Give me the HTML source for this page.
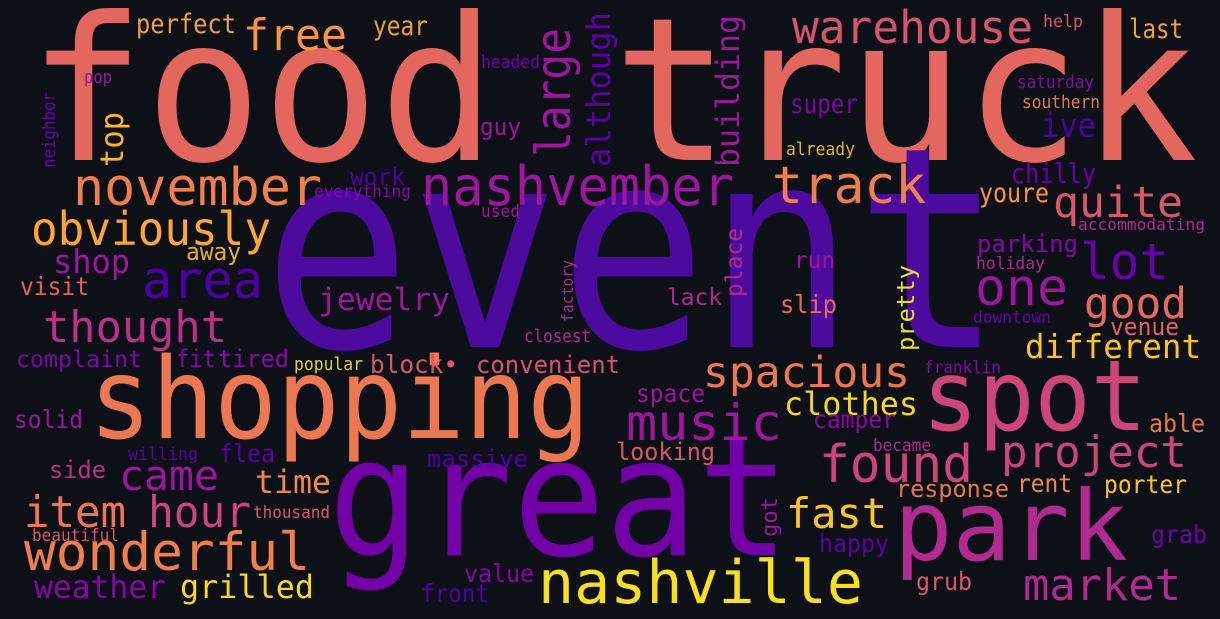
<!DOCTYPE html>
<html><head><meta charset="utf-8"><style>
html,body{margin:0;padding:0;background:#0d1017;}
svg{display:block}
text{font-family:"DejaVu Sans Mono","Liberation Mono",monospace;}
</style></head><body>
<svg width="1220" height="619" viewBox="0 0 1220 619" xmlns="http://www.w3.org/2000/svg">
<rect width="1220" height="619" fill="#0d1017"/>
<text x="28" y="160" font-size="200" textLength="1170" lengthAdjust="spacingAndGlyphs" fill="#e3665f">food truck</text>
<text x="263" y="347" font-size="280" textLength="740" lengthAdjust="spacingAndGlyphs" fill="#4c0a9f">event</text>
<text x="328" y="555" font-size="165" textLength="462" lengthAdjust="spacingAndGlyphs" fill="#7201a8">great</text>
<text x="89" y="438" font-size="112" textLength="501" lengthAdjust="spacingAndGlyphs" fill="#ec7853">shopping</text>
<text x="922" y="430" font-size="98" textLength="225" lengthAdjust="spacingAndGlyphs" fill="#cc4778">spot</text>
<text x="894" y="560" font-size="97" textLength="234" lengthAdjust="spacingAndGlyphs" fill="#b12a90">park</text>
<text x="538" y="603" font-size="60" textLength="325" lengthAdjust="spacingAndGlyphs" fill="#f8e020">nashville</text>
<text x="421" y="205" font-size="54" textLength="313" lengthAdjust="spacingAndGlyphs" fill="#9c179e">nashvember</text>
<text x="73" y="205" font-size="52" textLength="249" lengthAdjust="spacingAndGlyphs" fill="#f07f4f">november</text>
<text x="772" y="203" font-size="52" textLength="154" lengthAdjust="spacingAndGlyphs" fill="#f07f4f">track</text>
<text x="792" y="43" font-size="45" textLength="241" lengthAdjust="spacingAndGlyphs" fill="#d5546e">warehouse</text>
<text x="243" y="50" font-size="44" textLength="104" lengthAdjust="spacingAndGlyphs" fill="#f89540">free</text>
<text x="31" y="245" font-size="46" textLength="240" lengthAdjust="spacingAndGlyphs" fill="#fca636">obviously</text>
<text x="142" y="298" font-size="52" textLength="121" lengthAdjust="spacingAndGlyphs" fill="#4c02a1">area</text>
<text x="43" y="342" font-size="44" textLength="184" lengthAdjust="spacingAndGlyphs" fill="#b83289">thought</text>
<text x="318" y="310" font-size="31" textLength="132" lengthAdjust="spacingAndGlyphs" fill="#9c179e">jewelry</text>
<text x="975" y="305" font-size="51" textLength="93" lengthAdjust="spacingAndGlyphs" fill="#9c179e">one</text>
<text x="1080" y="279" font-size="50" textLength="89" lengthAdjust="spacingAndGlyphs" fill="#6a00a8">lot</text>
<text x="1053" y="217" font-size="43" textLength="130" lengthAdjust="spacingAndGlyphs" fill="#d8576b">quite</text>
<text x="1084" y="318" font-size="43" textLength="103" lengthAdjust="spacingAndGlyphs" fill="#e56b5d">good</text>
<text x="1025" y="358" font-size="33" textLength="176" lengthAdjust="spacingAndGlyphs" fill="#fdc328">different</text>
<text x="703" y="387" font-size="43" textLength="207" lengthAdjust="spacingAndGlyphs" fill="#ec7853">spacious</text>
<text x="626" y="440" font-size="50" textLength="156" lengthAdjust="spacingAndGlyphs" fill="#9c179e">music</text>
<text x="784" y="415" font-size="32" textLength="134" lengthAdjust="spacingAndGlyphs" fill="#f8d825">clothes</text>
<text x="819" y="482" font-size="52" textLength="154" lengthAdjust="spacingAndGlyphs" fill="#cc4778">found</text>
<text x="1001" y="467" font-size="44" textLength="186" lengthAdjust="spacingAndGlyphs" fill="#cc4778">project</text>
<text x="119" y="490" font-size="42" textLength="100" lengthAdjust="spacingAndGlyphs" fill="#9c179e">came</text>
<text x="148" y="527" font-size="44" textLength="103" lengthAdjust="spacingAndGlyphs" fill="#cc4778">hour</text>
<text x="24" y="527" font-size="44" textLength="102" lengthAdjust="spacingAndGlyphs" fill="#ec7853">item</text>
<text x="24" y="570" font-size="53" textLength="286" lengthAdjust="spacingAndGlyphs" fill="#f07f4f">wonderful</text>
<text x="34" y="598" font-size="32" textLength="132" lengthAdjust="spacingAndGlyphs" fill="#8707a6">weather</text>
<text x="180" y="598" font-size="32" textLength="134" lengthAdjust="spacingAndGlyphs" fill="#f8d825">grilled</text>
<text x="1023" y="600" font-size="44" textLength="158" lengthAdjust="spacingAndGlyphs" fill="#b12a90">market</text>
<text x="786" y="528" font-size="42" textLength="101" lengthAdjust="spacingAndGlyphs" fill="#fdc328">fast</text>
<text x="255" y="493" font-size="32" textLength="76" lengthAdjust="spacingAndGlyphs" fill="#f08a4b">time</text>
<text x="219" y="462" font-size="25" textLength="56" lengthAdjust="spacingAndGlyphs" fill="#5c01a6">flea</text>
<text x="14" y="428" font-size="25" textLength="69" lengthAdjust="spacingAndGlyphs" fill="#9c179e">solid</text>
<text x="49" y="478" font-size="24" textLength="57" lengthAdjust="spacingAndGlyphs" fill="#b83289">side</text>
<text x="16" y="367" font-size="23" textLength="126" lengthAdjust="spacingAndGlyphs" fill="#7a0aa5">complaint</text>
<text x="176" y="367" font-size="24" textLength="40" lengthAdjust="spacingAndGlyphs" fill="#8707a6">fit</text>
<text x="218" y="367" font-size="24" textLength="71" lengthAdjust="spacingAndGlyphs" fill="#8a0aa5">tired</text>
<text x="294" y="370" font-size="18" textLength="69" lengthAdjust="spacingAndGlyphs" fill="#e0d030">popular</text>
<text x="370" y="373" font-size="25" textLength="88" lengthAdjust="spacingAndGlyphs" fill="#d8576b">block•</text>
<text x="476" y="373" font-size="24" textLength="144" lengthAdjust="spacingAndGlyphs" fill="#d5546e">convenient</text>
<text x="636" y="402" font-size="25" textLength="69" lengthAdjust="spacingAndGlyphs" fill="#9c179e">space</text>
<text x="427" y="467" font-size="24" textLength="101" lengthAdjust="spacingAndGlyphs" fill="#4c02a1">massive</text>
<text x="616" y="460" font-size="24" textLength="99" lengthAdjust="spacingAndGlyphs" fill="#d8576b">looking</text>
<text x="813" y="428" font-size="25" textLength="83" lengthAdjust="spacingAndGlyphs" fill="#8a09a5">camper</text>
<text x="1149" y="432" font-size="25" textLength="56" lengthAdjust="spacingAndGlyphs" fill="#e67a45">able</text>
<text x="896" y="497" font-size="24" textLength="113" lengthAdjust="spacingAndGlyphs" fill="#e57a45">response</text>
<text x="1017" y="492" font-size="25" textLength="55" lengthAdjust="spacingAndGlyphs" fill="#f08a4b">rent</text>
<text x="1104" y="493" font-size="25" textLength="83" lengthAdjust="spacingAndGlyphs" fill="#fdc328">porter</text>
<text x="1151" y="543" font-size="25" textLength="56" lengthAdjust="spacingAndGlyphs" fill="#7201a8">grab</text>
<text x="819" y="552" font-size="25" textLength="70" lengthAdjust="spacingAndGlyphs" fill="#5c01a6">happy</text>
<text x="916" y="590" font-size="25" textLength="56" lengthAdjust="spacingAndGlyphs" fill="#d8576b">grub</text>
<text x="464" y="582" font-size="25" textLength="70" lengthAdjust="spacingAndGlyphs" fill="#8707a6">value</text>
<text x="421" y="602" font-size="25" textLength="68" lengthAdjust="spacingAndGlyphs" fill="#4c02a1">front</text>
<text x="253" y="518" font-size="17" textLength="77" lengthAdjust="spacingAndGlyphs" fill="#d8576b">thousand</text>
<text x="32" y="541" font-size="17" textLength="87" lengthAdjust="spacingAndGlyphs" fill="#d8576b">beautiful</text>
<text x="128" y="460" font-size="18" textLength="70" lengthAdjust="spacingAndGlyphs" fill="#5c01a6">willing</text>
<text x="350" y="185" font-size="24" textLength="55" lengthAdjust="spacingAndGlyphs" fill="#4c02a1">work</text>
<text x="314" y="197" font-size="17" textLength="97" lengthAdjust="spacingAndGlyphs" fill="#8707a6">everything</text>
<text x="186" y="260" font-size="24" textLength="55" lengthAdjust="spacingAndGlyphs" fill="#e5b030">away</text>
<text x="53" y="273" font-size="33" textLength="77" lengthAdjust="spacingAndGlyphs" fill="#9c179e">shop</text>
<text x="20" y="295" font-size="25" textLength="69" lengthAdjust="spacingAndGlyphs" fill="#e16462">visit</text>
<text x="480" y="135" font-size="24" textLength="41" lengthAdjust="spacingAndGlyphs" fill="#9c179e">guy</text>
<text x="136" y="33" font-size="27" textLength="100" lengthAdjust="spacingAndGlyphs" fill="#f0a040">perfect</text>
<text x="373" y="35" font-size="27" textLength="55" lengthAdjust="spacingAndGlyphs" fill="#f0a030">year</text>
<text x="84" y="83" font-size="18" textLength="28" lengthAdjust="spacingAndGlyphs" fill="#9c179e">pop</text>
<text x="481" y="68" font-size="18" textLength="59" lengthAdjust="spacingAndGlyphs" fill="#7201a8">headed</text>
<text x="790" y="113" font-size="27" textLength="68" lengthAdjust="spacingAndGlyphs" fill="#7a0aa5">super</text>
<text x="1041" y="137" font-size="34" textLength="55" lengthAdjust="spacingAndGlyphs" fill="#4c02a1">ive</text>
<text x="1043" y="27" font-size="17" textLength="40" lengthAdjust="spacingAndGlyphs" fill="#d8576b">help</text>
<text x="1129" y="38" font-size="27" textLength="54" lengthAdjust="spacingAndGlyphs" fill="#f0a040">last</text>
<text x="1017" y="88" font-size="18" textLength="77" lengthAdjust="spacingAndGlyphs" fill="#8a09a5">saturday</text>
<text x="1022" y="108" font-size="18" textLength="78" lengthAdjust="spacingAndGlyphs" fill="#e07a55">southern</text>
<text x="786" y="155" font-size="18" textLength="69" lengthAdjust="spacingAndGlyphs" fill="#e0b530">already</text>
<text x="1011" y="183" font-size="28" textLength="85" lengthAdjust="spacingAndGlyphs" fill="#6a00a8">chilly</text>
<text x="979" y="202" font-size="27" textLength="70" lengthAdjust="spacingAndGlyphs" fill="#f89540">youre</text>
<text x="1078" y="230" font-size="16" textLength="127" lengthAdjust="spacingAndGlyphs" fill="#b12a90">accommodating</text>
<text x="977" y="252" font-size="24" textLength="101" lengthAdjust="spacingAndGlyphs" fill="#8707a6">parking</text>
<text x="976" y="269" font-size="17" textLength="69" lengthAdjust="spacingAndGlyphs" fill="#b12a90">holiday</text>
<text x="973" y="323" font-size="17" textLength="78" lengthAdjust="spacingAndGlyphs" fill="#6a00a8">downtown</text>
<text x="1110" y="335" font-size="24" textLength="69" lengthAdjust="spacingAndGlyphs" fill="#e16462">venue</text>
<text x="924" y="373" font-size="17" textLength="77" lengthAdjust="spacingAndGlyphs" fill="#8707a6">franklin</text>
<text x="873" y="451" font-size="17" textLength="58" lengthAdjust="spacingAndGlyphs" fill="#b12a90">became</text>
<text x="794" y="268" font-size="23" textLength="41" lengthAdjust="spacingAndGlyphs" fill="#9c179e">run</text>
<text x="780" y="313" font-size="25" textLength="57" lengthAdjust="spacingAndGlyphs" fill="#e56b5d">slip</text>
<text x="667" y="305" font-size="23" textLength="55" lengthAdjust="spacingAndGlyphs" fill="#b12a90">lack</text>
<text x="481" y="217" font-size="17" textLength="39" lengthAdjust="spacingAndGlyphs" fill="#9c179e">used</text>
<text x="524" y="342" font-size="18" textLength="67" lengthAdjust="spacingAndGlyphs" fill="#b12a90">closest</text>
<text transform="rotate(-90 55 168)" x="55" y="168" font-size="18" textLength="76" lengthAdjust="spacingAndGlyphs" fill="#6a00a8">neighbor</text>
<text transform="rotate(-90 123 167)" x="123" y="167" font-size="32" textLength="55" lengthAdjust="spacingAndGlyphs" fill="#fdb42f">top</text>
<text transform="rotate(-90 570 157)" x="570" y="157" font-size="48" textLength="129" lengthAdjust="spacingAndGlyphs" fill="#9c179e">large</text>
<text transform="rotate(-90 610 167)" x="610" y="167" font-size="33" textLength="155" lengthAdjust="spacingAndGlyphs" fill="#5c01a6">although</text>
<text transform="rotate(-90 739 167)" x="739" y="167" font-size="32" textLength="152" lengthAdjust="spacingAndGlyphs" fill="#9c179e">building</text>
<text transform="rotate(-90 742 297)" x="742" y="297" font-size="23" textLength="69" lengthAdjust="spacingAndGlyphs" fill="#b12a90">place</text>
<text transform="rotate(-90 914 351)" x="914" y="351" font-size="24" textLength="86" lengthAdjust="spacingAndGlyphs" fill="#e8e030">pretty</text>
<text transform="rotate(-90 777 537)" x="777" y="537" font-size="22" textLength="40" lengthAdjust="spacingAndGlyphs" fill="#9c179e">got</text>
<text transform="rotate(-90 573 322)" x="573" y="322" font-size="16" textLength="62" lengthAdjust="spacingAndGlyphs" fill="#b12a90">factory</text>
</svg>
</body></html>
